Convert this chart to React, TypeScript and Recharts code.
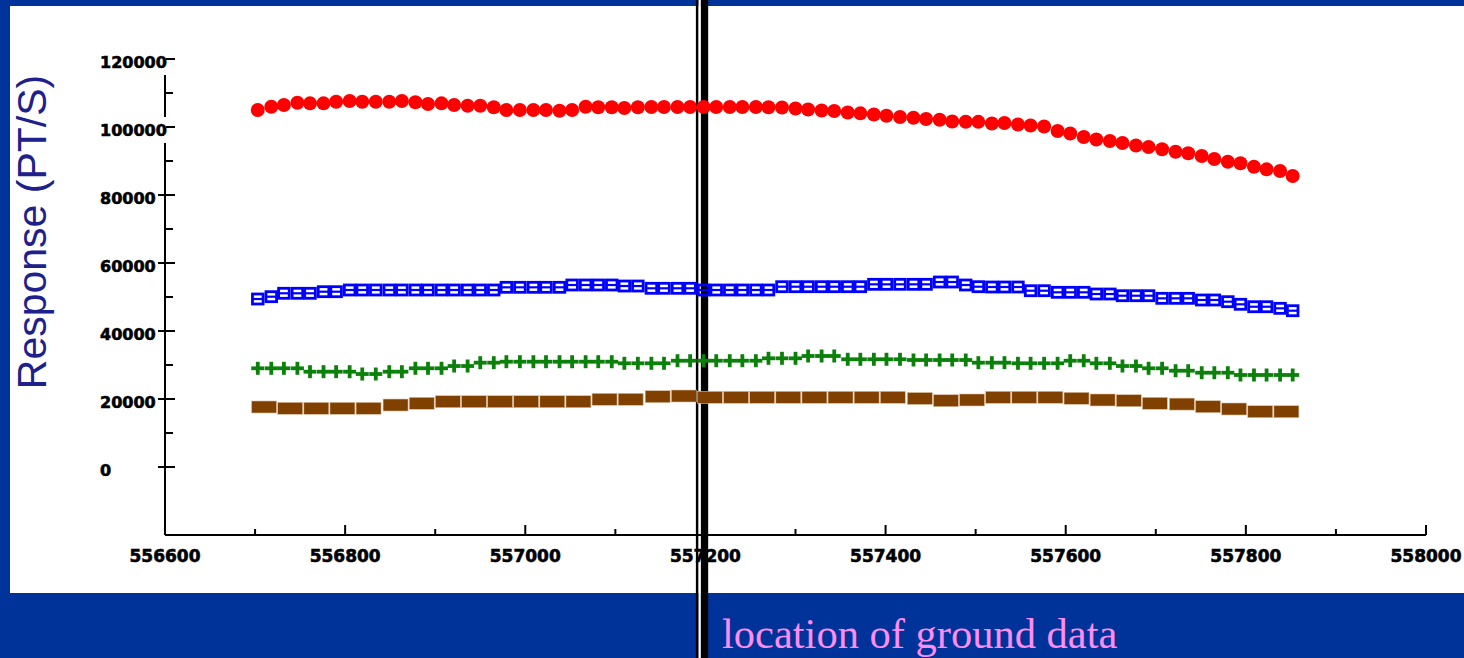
import React from 'react';
import { ScatterChart, Scatter, XAxis, YAxis, ReferenceLine } from 'recharts';

// Shared easting positions of the red / blue / green samples
const xPositions = [
  556703, 556718, 556732, 556747, 556761, 556776, 556790, 556805, 556819, 556834,
  556849, 556863, 556878, 556892, 556907, 556921, 556936, 556950, 556965, 556979,
  556994, 557009, 557023, 557038, 557052, 557067, 557081, 557096, 557110, 557125,
  557140, 557154, 557169, 557183, 557198, 557212, 557227, 557241, 557256, 557270,
  557285, 557300, 557314, 557329, 557343, 557358, 557372, 557387, 557401, 557416,
  557431, 557445, 557460, 557474, 557489, 557503, 557518, 557532, 557547, 557561,
  557576, 557591, 557605, 557620, 557634, 557649, 557663, 557678, 557692, 557707,
  557722, 557736, 557751, 557765, 557780, 557794, 557809, 557823, 557838, 557852,
];

const redSeries = [
  105000, 105960, 106460, 107140, 106960, 106960, 107430, 107640, 107430, 107430,
  107430, 107640, 107260, 106760, 106960, 106460, 106260, 106260, 105790, 105000,
  105000, 105000, 105000, 104790, 105000, 105960, 105790, 105790, 105580, 105790,
  105880, 105880, 105880, 105880, 105880, 105880, 105880, 105880, 105880, 105790,
  105730, 105440, 105140, 104850, 104700, 104260, 104020, 103670, 103320, 102940,
  102700, 102350, 102140, 101610, 101550, 101520, 101020, 101170, 100730, 100440,
  100140, 98820, 98080, 97050, 96320, 95880, 95290, 94550, 94110, 93440,
  92730, 92260, 91470, 90580, 89790, 89320, 88320, 87550, 87050, 85580,
];

const blueSeries = [
  49410, 50090, 51090, 51090, 51090, 51560, 51560, 52060, 52060, 52060,
  52060, 52060, 52060, 52060, 52060, 52060, 52060, 52060, 52060, 52850,
  52850, 52850, 52850, 52850, 53530, 53530, 53530, 53530, 53230, 53230,
  52560, 52560, 52560, 52560, 52060, 52060, 52060, 52060, 52060, 52060,
  53030, 53030, 53030, 53030, 53030, 53030, 53030, 53730, 53730, 53730,
  53730, 53730, 54410, 54410, 53530, 53030, 52940, 52940, 52940, 51850,
  51850, 51380, 51380, 51380, 50880, 50880, 50380, 50380, 50380, 49610,
  49610, 49610, 49120, 49120, 48620, 47850, 47140, 47140, 46670, 45970,
];

const greenSeries = [
  29030, 29030, 29030, 29030, 28030, 28030, 28030, 28030, 27350, 27350,
  28030, 28030, 29030, 29030, 29030, 29700, 29700, 30680, 30680, 30970,
  30970, 30970, 30970, 30970, 30970, 30970, 30970, 30970, 30500, 30500,
  30500, 30500, 31260, 31260, 31260, 31260, 31260, 31260, 31260, 31970,
  31970, 31970, 32650, 32650, 32650, 31680, 31680, 31680, 31680, 31680,
  31470, 31470, 31470, 31470, 31470, 30680, 30680, 30680, 30500, 30500,
  30500, 30500, 31260, 31260, 30500, 30500, 29700, 29700, 29030, 29030,
  28320, 28320, 27730, 27730, 27730, 27060, 27060, 27060, 27060, 27060,
];

// Brown series has its own (coarser) sample positions
const brownX = [
  556710, 556739, 556768, 556797, 556826, 556856, 556885, 556914, 556943, 556972,
  557001, 557030, 557059, 557088, 557117, 557147, 557176, 557205, 557234, 557263,
  557292, 557321, 557350, 557379, 557408, 557438, 557467, 557496, 557525, 557554,
  557583, 557612, 557641, 557670, 557699, 557729, 557758, 557787, 557816, 557845,
];

const brownSeries = [
  17650, 17260, 17260, 17260, 17260, 18230, 18730, 19210, 19210, 19210,
  19210, 19210, 19210, 19910, 19910, 20680, 20880, 20500, 20500, 20500,
  20500, 20500, 20500, 20500, 20500, 20150, 19500, 19710, 20500, 20500,
  20500, 20200, 19710, 19500, 18730, 18500, 17730, 17060, 16260, 16260,
];

const xTicks = [
  556600, 556700, 556800, 556900, 557000, 557100, 557200, 557300,
  557400, 557500, 557600, 557700, 557800, 557900, 558000,
];
const xTickLabels = [556600, 556800, 557000, 557200, 557400, 557600, 557800, 558000];

const yTicks = [0, 10000, 20000, 30000, 40000, 50000, 60000, 70000, 80000, 90000, 100000, 110000, 120000];
const yTickLabels = [0, 20000, 40000, 60000, 80000, 100000, 120000];

const groundLocation = 557199;

const W = 1464;
const H = 658;

const toPoints = (xs: number[], ys: number[]) => xs.map((x, i) => ({ x, y: ys[i] }));

const redData = toPoints(xPositions, redSeries);
const blueData = toPoints(xPositions, blueSeries);
const greenData = toPoints(xPositions, greenSeries);
const brownData = toPoints(brownX, brownSeries);

const RedDot = (p: any) => <circle cx={p.cx} cy={p.cy} r={7} fill="#ff0000" />;

const BlueBox = (p: any) => (
  <g>
    <rect x={p.cx - 5.3} y={p.cy - 5} width={10.6} height={10} fill="none" stroke="#0000ff" strokeWidth={2.8} />
    <line x1={p.cx - 5.3} x2={p.cx + 5.3} y1={p.cy} y2={p.cy} stroke="#0000ff" strokeWidth={2.2} />
  </g>
);

const GreenPlus = (p: any) => (
  <g stroke="#0b800b" strokeWidth={3.8}>
    <line x1={p.cx - 6.5} x2={p.cx + 6.5} y1={p.cy} y2={p.cy} />
    <line x1={p.cx} x2={p.cx} y1={p.cy - 6.5} y2={p.cy + 6.5} />
  </g>
);

const BrownRect = (p: any) => (
  <rect x={p.cx - 12.5} y={p.cy - 6} width={25} height={12} fill="#804000" stroke="#dcc0a4" strokeWidth={0.6} />
);

const XTick = (props: any) => {
  const { x, y, payload } = props;
  const v = payload.value;
  const major = xTickLabels.includes(v);
  return (
    <g>
      <line x1={x} x2={x} y1={y} y2={y - (major ? 10 : 6)} stroke="#000" strokeWidth={2} />
      {major && (
        <text
          x={x}
          y={y + 26.5}
          textAnchor="middle"
          fontFamily="DejaVu Sans"
          fontWeight="bold"
          fontSize={17}
          fill="#000"
          stroke="#000"
          strokeWidth={0.6}
        >
          {v}
        </text>
      )}
    </g>
  );
};

const YTick = (props: any) => {
  const { x, y, payload } = props;
  const v = payload.value;
  const major = yTickLabels.includes(v);
  const label = String(v);
  const lx = x - 65;
  return (
    <g>
      {major ? (
        <line x1={x - 7} x2={x + 10} y1={y} y2={y} stroke="#000" strokeWidth={2} />
      ) : (
        <line x1={x} x2={x + 8} y1={y} y2={y} stroke="#000" strokeWidth={2} />
      )}
      {major && (
        <g>
          <rect x={lx} y={y - 10} width={label.length * 11} height={26} fill="#ffffff" />
          <text
            x={lx}
            y={y + 8.5}
            textAnchor="start"
            fontFamily="DejaVu Sans"
            fontWeight="bold"
            fontSize={16}
            fill="#000"
            stroke="#000"
            strokeWidth={0.6}
          >
            {label}
          </text>
        </g>
      )}
    </g>
  );
};

const GroundLine = (p: any) => {
  const x = p.x1;
  return (
    <g>
      <rect x={x - 8.65} y={0} width={2.7} height={H} fill="#000" />
      <rect x={x - 5.95} y={0} width={2.3} height={H} fill="#fff" />
      <rect x={x - 3.65} y={0} width={7.3} height={H} fill="#000" />
    </g>
  );
};

export default function App() {
  return (
    <div style={{ position: 'absolute', left: 0, top: 0, width: W, height: H, background: '#003399', overflow: 'hidden' }}>
      <div style={{ position: 'absolute', left: 10, top: 6, width: W - 10, height: 587, background: '#ffffff' }} />
      <svg width={W} height={H} style={{ position: 'absolute', left: 0, top: 0 }}>
        <text
          x={46}
          y={232}
          transform="rotate(-90 46 232)"
          textAnchor="middle"
          fontFamily="Liberation Sans"
          fontSize={41}
          fill="#20208c"
        >
          Response (PT/S)
        </text>
        <text x={722} y={648} fontFamily="Liberation Serif" fontSize={42.5} fill="#ff8cf2">
          location of ground data
        </text>
      </svg>
      <div style={{ position: 'absolute', left: 0, top: 0 }}>
        <ScatterChart width={W} height={H} margin={{ top: 59, right: 38, bottom: 83, left: 105 }}>
          <XAxis
            type="number"
            dataKey="x"
            domain={[556600, 558000]}
            ticks={xTicks}
            interval={0}
            height={40}
            tickLine={false}
            tickSize={0}
            tickMargin={0}
            axisLine={{ stroke: '#000', strokeWidth: 2 }}
            tick={<XTick />}
            allowDataOverflow
          />
          <YAxis
            type="number"
            dataKey="y"
            domain={[-20000, 120000]}
            ticks={yTicks}
            interval={0}
            width={60}
            tickLine={false}
            tickSize={0}
            tickMargin={0}
            axisLine={{ stroke: '#000', strokeWidth: 2 }}
            tick={<YTick />}
            allowDataOverflow
          />
          <Scatter data={brownData} shape={<BrownRect />} isAnimationActive={false} />
          <Scatter data={greenData} shape={<GreenPlus />} isAnimationActive={false} />
          <Scatter data={blueData} shape={<BlueBox />} isAnimationActive={false} />
          <Scatter data={redData} shape={<RedDot />} isAnimationActive={false} />
          <ReferenceLine x={groundLocation} ifOverflow="visible" shape={<GroundLine />} />
        </ScatterChart>
      </div>
    </div>
  );
}
